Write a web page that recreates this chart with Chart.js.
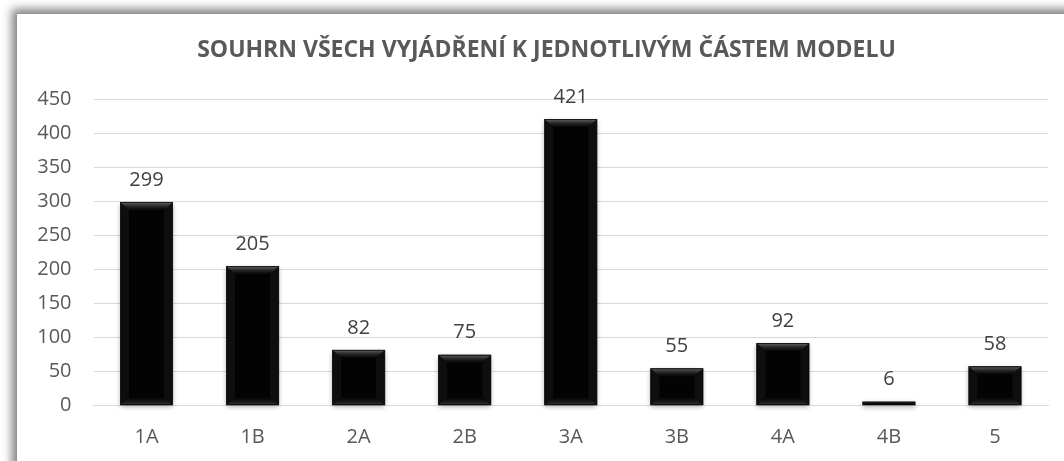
<!DOCTYPE html>
<html>
<head>
<meta charset="utf-8">
<script src="https://cdn.jsdelivr.net/npm/chart.js@4"></script>
<style>
html,body{margin:0;padding:0;background:#fff;width:1064px;height:461px;overflow:hidden;}
#card{position:absolute;left:17px;top:14px;width:1120px;height:520px;background:#fff;box-shadow:-5px -5px 9px rgba(0,0,0,0.5);}
#wrap{position:absolute;left:0;top:0;width:1064px;height:461px;}
</style>
</head>
<body>
<div id="card"></div>
<div id="wrap"><canvas id="c" width="1064" height="461"></canvas></div>
<script>
const titleText = 'SOUHRN VŠECH VYJÁDŘENÍ K JEDNOTLIVÝM ČÁSTEM MODELU';
const categories = ['1A','1B','2A','2B','3A','3B','4A','4B','5'];
const values = [299,205,82,75,421,55,92,6,58];
const yTicks = [0,50,100,150,200,250,300,350,400,450];

const FONT = "'Open Sans', 'DejaVu Sans', sans-serif";

const titlePlugin = {
  id: 'cardTitle',
  afterDraw(chart) {
    const ctx = chart.ctx;
    ctx.save();
    ctx.font = 'bold 23px ' + FONT;
    ctx.fillStyle = '#595959';
    ctx.textAlign = 'center';
    ctx.textBaseline = 'middle';
    ctx.fillText(titleText, 546.5, 50);
    ctx.restore();
  }
};

const bevelPlugin = {
  id: 'bevel',
  afterDatasetsDraw(chart) {
    const ctx = chart.ctx;
    const meta = chart.getDatasetMeta(0);
    meta.data.forEach((bar) => {
      const left = bar.x - bar.width / 2, right = bar.x + bar.width / 2;
      const top = Math.min(bar.y, bar.base), bottom = Math.max(bar.y, bar.base);
      const h = bottom - top;
      const b = Math.min(8, h / 2);
      ctx.save();
      let g = ctx.createLinearGradient(0, top, 0, top + b);
      g.addColorStop(0, 'rgba(110,110,110,0.95)');
      g.addColorStop(1, 'rgba(20,20,20,0.3)');
      ctx.fillStyle = g;
      ctx.beginPath();
      ctx.moveTo(left + 1, top + 1); ctx.lineTo(right - 1, top + 1);
      ctx.lineTo(right - 1 - b, top + b); ctx.lineTo(left + 1 + b, top + b);
      ctx.closePath(); ctx.fill();
      g = ctx.createLinearGradient(0, bottom - b, 0, bottom);
      g.addColorStop(0, 'rgba(10,10,10,0.3)');
      g.addColorStop(1, 'rgba(60,60,60,0.9)');
      ctx.fillStyle = g;
      ctx.beginPath();
      ctx.moveTo(left + 1, bottom - 1); ctx.lineTo(right - 1, bottom - 1);
      ctx.lineTo(right - 1 - b, bottom - b); ctx.lineTo(left + 1 + b, bottom - b);
      ctx.closePath(); ctx.fill();
      ctx.fillStyle = 'rgba(25,25,25,0.5)';
      ctx.beginPath();
      ctx.moveTo(left + 1, top + 1); ctx.lineTo(left + 1 + b, top + b);
      ctx.lineTo(left + 1 + b, bottom - b); ctx.lineTo(left + 1, bottom - 1);
      ctx.closePath(); ctx.fill();
      ctx.beginPath();
      ctx.moveTo(right - 1, top + 1); ctx.lineTo(right - 1 - b, top + b);
      ctx.lineTo(right - 1 - b, bottom - b); ctx.lineTo(right - 1, bottom - 1);
      ctx.closePath(); ctx.fill();
      ctx.restore();
    });
  }
};

const shadowPlugin = {
  id: 'barShadow',
  beforeDatasetsDraw(chart) {
    const ctx = chart.ctx;
    const meta = chart.getDatasetMeta(0);
    ctx.save();
    meta.data.forEach((bar) => {
      const left = bar.x - bar.width / 2;
      const top = Math.min(bar.y, bar.base), bottom = Math.max(bar.y, bar.base);
      ctx.shadowColor = 'rgba(0,0,0,0.35)';
      ctx.shadowBlur = 5;
      ctx.shadowOffsetY = 2;
      ctx.fillStyle = '#000';
      ctx.fillRect(left, top, bar.width, bottom - top);
    });
    ctx.restore();
  }
};

const labelPlugin = {
  id: 'valueLabels',
  afterDatasetsDraw(chart) {
    const ctx = chart.ctx;
    const meta = chart.getDatasetMeta(0);
    ctx.save();
    ctx.font = '20px ' + FONT;
    ctx.fillStyle = '#404040';
    ctx.textAlign = 'center';
    ctx.textBaseline = 'middle';
    meta.data.forEach((bar, i) => {
      ctx.fillText(String(values[i]), bar.x, bar.y - 22);
    });
    ctx.restore();
  }
};

new Chart(document.getElementById('c'), {
  type: 'bar',
  data: {
    labels: categories,
    datasets: [{
      data: values,
      backgroundColor: '#030303',
      borderColor: '#1a1a1a',
      borderWidth: 1,
      categoryPercentage: 0.5,
      barPercentage: 1.0
    }]
  },
  options: {
    responsive: false,
    animation: false,
    devicePixelRatio: 1,
    layout: { padding: { left: 17, right: 16, top: 99.3, bottom: 0 } },
    plugins: {
      legend: { display: false },
      tooltip: { enabled: false },
      title: { display: false }
    },
    scales: {
      x: {
        grid: { display: false, drawTicks: false },
        border: { display: true, color: '#d9d9d9', width: 1 },
        ticks: { color: '#595959', font: { family: FONT, size: 20 }, padding: 20 },
        afterFit(scale) { scale.height = 55.3; }
      },
      y: {
        min: 0, max: 450,
        afterBuildTicks(scale) { scale.ticks = yTicks.map(v => ({ value: v })); },
        grid: { color: '#d9d9d9', lineWidth: 1, drawTicks: false },
        border: { display: false },
        ticks: { color: '#595959', font: { family: FONT, size: 20 }, padding: 22 },
        afterFit(scale) { scale.width = 76.5; }
      }
    }
  },
  plugins: [shadowPlugin, bevelPlugin, labelPlugin, titlePlugin]
});
</script>
</body>
</html>
